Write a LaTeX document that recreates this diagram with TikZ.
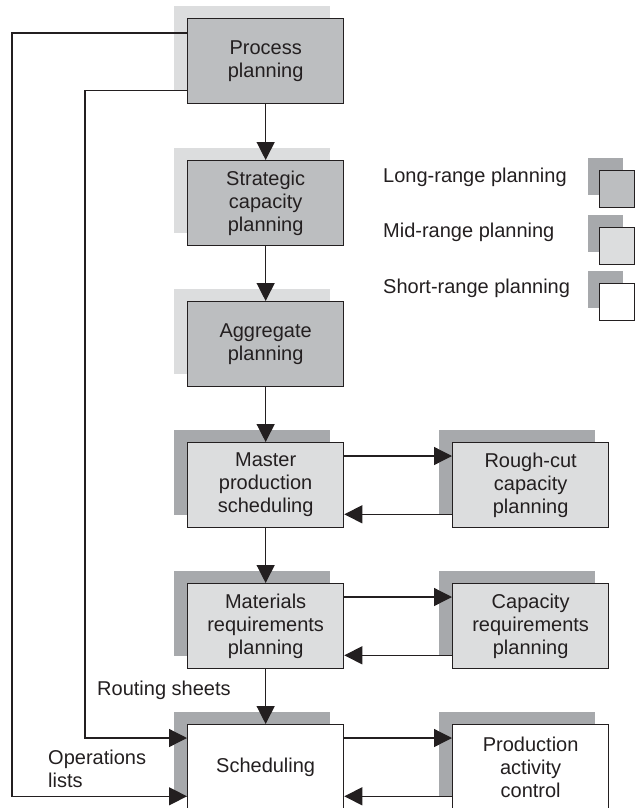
\documentclass[tikz,border=0pt]{standalone}
\usepackage{fontspec}
\setmainfont{Liberation Sans}
\usetikzlibrary{arrows.meta,shadows}
\definecolor{inkc}{HTML}{231F20}
\definecolor{midgray}{HTML}{BCBEC0}
\definecolor{lightgray}{HTML}{DCDDDE}
\definecolor{darkgray}{HTML}{A7A9AC}
\tikzset{
  box/.style={draw=inkc, line width=1.3pt, minimum width=156pt, minimum height=85pt,
    anchor=north west, align=center, inner sep=0pt, text=inkc,
    font=\fontsize{20}{23}\selectfont},
  longbox/.style={box, fill=midgray, general shadow={fill=lightgray, shadow xshift=-13.5pt, shadow yshift=12.5pt}},
  midbox/.style={box, fill=lightgray, general shadow={fill=darkgray, shadow xshift=-13.5pt, shadow yshift=12.5pt}},
  shortbox/.style={box, fill=white, general shadow={fill=darkgray, shadow xshift=-13.5pt, shadow yshift=12.5pt}},
  legsq/.style={draw=inkc, line width=1.3pt, minimum width=35pt, minimum height=37pt,
    anchor=north west, inner sep=0pt,
    general shadow={fill=darkgray, shadow xshift=-12pt, shadow yshift=13pt}},
  lbl/.style={anchor=west, inner sep=0pt, text=inkc, align=left, font=\fontsize{20}{23}\selectfont},
  arr/.style={draw=inkc, line width=1.3pt, -{Triangle[length=18pt,width=18pt]}},
  conn/.style={draw=inkc, line width=1.3pt}
}
\begin{document}
\begin{tikzpicture}[x=1pt,y=-1pt]
\useasboundingbox (0,0) rectangle (635,808);
% main column
\node[longbox] (pp) at (187,18) {Process\\planning};
\node[longbox] (scp) at (187,160) {Strategic\\capacity\\planning};
\node[longbox] (agg) at (187,301) {Aggregate\\planning};
\node[midbox] (mps) at (187,442) {Master\\production\\scheduling};
\node[midbox] (mrp) at (187,583) {Materials\\requirements\\planning};
\node[shortbox] (sch) at (187,724) {Scheduling};
% right column
\node[midbox] (rcc) at (452,442) {Rough-cut\\capacity\\planning};
\node[midbox] (crp) at (452,583) {Capacity\\requirements\\planning};
\node[shortbox] (pac) at (452,724) {Production\\activity\\control};
% legend
\node[lbl] (lt1) at (383,177) {Long-range planning};
\node[lbl] (lt2) at (383,232) {Mid-range planning};
\node[lbl] (lt3) at (383,288) {Short-range planning};
\node[legsq, fill=midgray] (lq1) at (599,170) {};
\node[legsq, fill=lightgray] (lq2) at (599,227) {};
\node[legsq, fill=white] (lq3) at (599,283) {};
% labels
\node[lbl] (rs) at (97,690) {Routing sheets};
\node[lbl] (ol) at (48,769) {Operations\\lists};
% vertical arrows
\draw[arr] (pp.south) -- (scp.north);
\draw[arr] (scp.south) -- (agg.north);
\draw[arr] (agg.south) -- (mps.north);
\draw[arr] (mps.south) -- (mrp.north);
\draw[arr] (mrp.south) -- (sch.north);
% horizontal pairs
\draw[arr] ([yshift=-14pt]mps.north east) -- ([yshift=-14pt]rcc.north west);
\draw[arr] ([yshift=14pt]rcc.south west) -- ([yshift=14pt]mps.south east);
\draw[arr] ([yshift=-14pt]mrp.north east) -- ([yshift=-14pt]crp.north west);
\draw[arr] ([yshift=14pt]crp.south west) -- ([yshift=14pt]mrp.south east);
\draw[arr] ([yshift=-14pt]sch.north east) -- ([yshift=-14pt]pac.north west);
\draw[arr] ([yshift=14pt]pac.south west) -- ([yshift=14pt]sch.south east);
% feedback lines
\draw[arr] ([yshift=-15pt]pp.north west) -- ++(-175,0) |- ([yshift=14pt]sch.south west);
\draw[arr] ([yshift=14pt]pp.south west) -- ++(-102,0) |- ([yshift=-14pt]sch.north west);
\end{tikzpicture}
\end{document}
